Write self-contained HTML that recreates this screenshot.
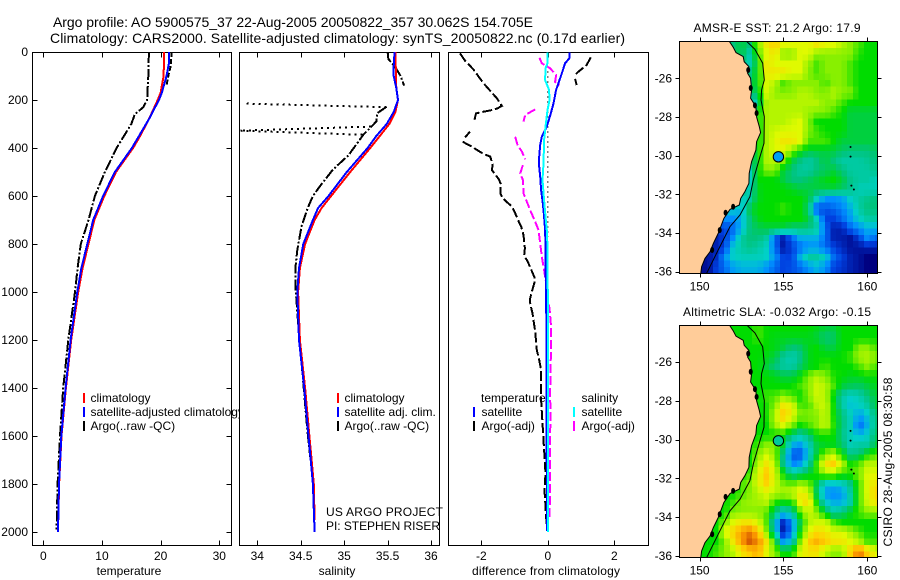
<!DOCTYPE html>
<html><head><meta charset="utf-8"><title>Argo profile</title>
<style>
html,body{margin:0;padding:0;background:#fff;width:900px;height:580px;overflow:hidden}
svg{display:block;font-family:"Liberation Sans",sans-serif;font-size:12px}
text{fill:#000}
</style></head>
<body>
<svg id="fig" xmlns="http://www.w3.org/2000/svg" width="900" height="580" viewBox="0 0 900 580">
<defs>
<clipPath id="clip-t"><rect x="32" y="52" width="200" height="494"/></clipPath>
<clipPath id="clip-s"><rect x="239" y="52" width="201" height="494"/></clipPath>
<clipPath id="clip-d"><rect x="448" y="52" width="201" height="494"/></clipPath>
<clipPath id="clip-m1"><rect x="679" y="41" width="199" height="232"/></clipPath>
<clipPath id="clip-m2"><rect x="679" y="325" width="199" height="232"/></clipPath>
<clipPath id="legend-clip"><rect x="0" y="380" width="239" height="60"/></clipPath>
</defs>
<text x="53" y="27" font-size="14" textLength="480">Argo profile: AO 5900575_37 22-Aug-2005 20050822_357 30.062S 154.705E</text>
<text x="50" y="43" font-size="14" textLength="575">Climatology: CARS2000. Satellite-adjusted climatology: synTS_20050822.nc (0.17d earlier)</text>
<g id="panels"></g>
<g id="maps"></g>
<g id="labels">
<text x="129" y="575" text-anchor="middle">temperature</text>
<text x="337" y="575" text-anchor="middle">salinity</text>
<text x="546" y="575" text-anchor="middle" textLength="148">difference from climatology</text>
<text x="326" y="516" textLength="117">US ARGO PROJECT</text>
<text x="326" y="530" textLength="114">PI: STEPHEN RISER</text>
<text x="777" y="32" text-anchor="middle" textLength="167">AMSR-E SST: 21.2 Argo: 17.9</text>
<text x="777" y="316" text-anchor="middle" textLength="188">Altimetric SLA: -0.032 Argo: -0.15</text>
<text x="0" y="0" text-anchor="middle" textLength="169" transform="translate(892,462) rotate(-90)">CSIRO 28-Aug-2005 08:30:58</text>
<g>
<rect x="83" y="393" width="2" height="10" fill="#f00"/>
<text x="90.5" y="402">climatology</text>
<rect x="83" y="407" width="2" height="10" fill="#00f"/>
<text x="90.5" y="416" clip-path="url(#legend-clip)">satellite-adjusted climatology</text>
<rect x="83" y="421" width="2" height="10" fill="#000"/>
<text x="90.5" y="430">Argo(..raw -QC)</text>
</g>
<g>
<rect x="337" y="393" width="2" height="10" fill="#f00"/>
<text x="344.5" y="402">climatology</text>
<rect x="337" y="407" width="2" height="10" fill="#00f"/>
<text x="344.5" y="416">satellite adj. clim.</text>
<rect x="337" y="421" width="2" height="10" fill="#000"/>
<text x="344.5" y="430">Argo(..raw -QC)</text>
</g>
<g>
<text x="481" y="402">temperature</text>
<rect x="473" y="407" width="2" height="10" fill="#00f"/>
<text x="481.5" y="416">satellite</text>
<rect x="473" y="421" width="2" height="10" fill="#000"/>
<text x="481.5" y="430">Argo(-adj)</text>
<text x="581.5" y="402">salinity</text>
<rect x="573" y="407" width="2" height="10" fill="#0ff"/>
<text x="581.5" y="416">satellite</text>
<rect x="573" y="421" width="2" height="10" fill="#f0f"/>
<text x="581.5" y="430">Argo(-adj)</text>
</g>
</g>
</svg>
<script>
/* ---------- profile data ---------- */
const depthTicks=[0,200,400,600,800,1000,1200,1400,1600,1800,2000];
const tempTicks=[0,10,20,30];
const salTicks=[34,34.5,35,35.5,36];
const diffTicks=[-2,0,2];

const tempClimDepth=[0,100,170,200,280,350,400,500,600,700,800,900,1000,1200,1400,1600,1800,1950];
const tempClimVal=[20.6,20.5,20.0,19.5,18.0,16.5,15.3,12.4,10.4,8.7,7.7,6.7,5.95,4.75,3.85,3.1,2.7,2.55];
const tempSatDepth=[0,50,100,170,200,280,400,500,600,700,800,900,1000,1200,1400,1600,1800,2000];
const tempSatVal=[21.4,21.4,21.0,20.2,19.7,18.0,15.1,12.2,10.2,8.5,7.5,6.5,5.8,4.66,3.8,3.07,2.67,2.5];
const tempArgoDepth=[0,100,200,230,260,300,400,500,600,700,800,900,1000,1200,1400,1600,1800,1990];
const tempArgoVal=[18.0,17.9,17.7,17.05,15.6,15.0,12.5,10.5,8.8,7.7,6.4,5.85,5.4,4.26,3.4,2.84,2.44,2.27];
const tempRawDepth=[0,60,100,140];
const tempRawVal=[21.9,21.7,21.3,21.0];

const salClimDepth=[0,150,200,250,300,350,400,500,600,650,700,800,900,1000,1200,1400,1600,1800,1950];
const salClimVal=[35.59,35.6,35.62,35.59,35.52,35.41,35.3,35.07,34.85,34.74,34.66,34.55,34.49,34.47,34.49,34.55,34.6,34.65,34.66];
const salSatDepth=[0,60,100,150,200,250,300,350,400,500,600,650,700,800,900,1000,1200,1400,1600,1800,2000];
const salSatVal=[35.58,35.57,35.57,35.6,35.62,35.57,35.49,35.37,35.27,35.03,34.82,34.7,34.64,34.53,34.48,34.46,34.48,34.54,34.59,34.64,34.66];
const salArgoDepth=[0,30,50,70,100,140,null,228,255,290,345,395,430,490,560,600,650,725,825,895,980,1130,1340,1550,1660,1770,1850];
const salArgoVal=[35.5,35.51,35.56,35.6,35.65,35.69,null,35.49,35.38,35.37,35.22,35.12,35.05,34.87,34.72,34.64,34.58,34.51,34.46,34.44,34.44,34.47,34.52,34.57,34.6,34.64,34.65];
const salRawDepth=[230,215,null,311,328,345];
const salRawVal=[35.49,33.85,null,35.31,33.8,35.24];

const diffSatTDepth=[3,26,47,89,131,158,214,256,311,353,387,436,478,519,575,631,686,742,811,881,1019,1200,1800,1995];
const diffSatTVal=[.65,.65,.52,.42,.32,.25,.17,.09,-.03,-.18,-.23,-.26,-.26,-.23,-.2,-.15,-.11,-.08,-.07,-.07,-.05,-.04,-.03,-.02];
const diffSatSDepth=[3,47,68,117,158,200,242,311,367,464,533,603,686,742,811,1019,1500,2000];
const diffSatSVal=[-.01,-.01,-.07,-.08,.04,.05,-.01,-.07,-.11,-.13,-.16,-.12,-.07,-.03,-.01,0,0,0];
const diffArgoTDepth=[6,36,72,131,193,225,236,242,249,256,286,null,332,356,null,374,390,425,436,471,492,529,550,589,610,644,672,704,728,763,818,846,881,939,960,999,1026,1047,1089,1165,1242,1283,1325,1450,1568,1658,1756,1825,1936,1981,null,22,54,82,99,null,112,138];
const diffArgoTVal=[-2.64,-2.49,-2.24,-1.93,-1.53,-1.38,-1.53,-1.68,-1.95,-2.16,-2.21,null,-2.34,-2.49,null,-2.56,-2.34,-1.93,-1.73,-1.66,-1.68,-1.48,-1.41,-1.43,-1.35,-1.08,-.98,-.88,-.8,-.73,-.69,-.71,-.58,-.4,-.4,-.48,-.53,-.53,-.46,-.38,-.33,-.26,-.2,-.2,-.15,-.11,-.07,-.1,-.05,-.03,null,1.29,1.17,.92,.79,null,.82,.87];
const diffArgoSDepth=[24,47,68,96,124,138,null,239,262,290,null,353,387,415,447,null,471,506,533,568,589,624,665,707,742,797,853,908,964,1019,1068,1131,1242,1311,1450,1492,1589,1867,1950];
const diffArgoSVal=[-.25,-.18,.07,.25,.22,.35,null,-.38,-.68,-.73,null,-.98,-.91,-.78,-.68,null,-.75,-.83,-.75,-.73,-.73,-.63,-.51,-.38,-.28,-.23,-.18,-.11,-.05,-.03,.05,.09,.1,.08,.07,.09,.07,.07,.04];
const diffRawDepth=[60,770];
const diffRawVal=[0,0];

/* ---------- map data ---------- */
const mapLons=[150.5,151,151.5,152,152.5,153,153.5,154,154.5,155,155.5,156,156.5,157,157.5,158,158.5,159,159.5,160,160.5];
const mapLats=[-24.25,-24.75,-25.25,-25.75,-26.25,-26.75,-27.25,-27.75,-28.25,-28.75,-29.25,-29.75,-30.25,-30.75,-31.25,-31.75,-32.25,-32.75,-33.25,-33.75,-34.25,-34.75,-35.25,-35.75];
const lonTicks=[150,155,160];
const latTicks=[-26,-28,-30,-32,-34,-36];
const sstGrid=[
[4,4,4,4,4.5,4,6,7.5,8,7,7,7,7,7.5,7,7,6.5,6,5.5,5,5],
[4,4,4,4,4.5,3.3,5.5,7,7.5,6,6,7,7,6,6,6,6,6,5.2,5,5],
[4,4,4,4,4,3.3,5,7.5,7,7,7,7,6.2,5.5,6,6,6,5.5,5,5,5],
[4,4,4,4,4,4,5,7.5,7.5,7.5,7,7,6,5.5,6,6,6,5.5,5,5,5],
[4,4,4,4,4,4,5,7,6.5,5.5,6,6,6,6,5.5,6,6,5.5,5,5,5],
[4,4,4,4,4,4,4.5,7,6,6,6,6.5,6.5,6,6,6.5,6,6,5,5,5],
[4,4,4,4,4,2,4,6.5,6.5,6.5,6.5,6.5,6.5,6.5,6,6,5.5,5,5,5,5],
[4,4,4,4,4,4,5,6.5,6.5,6.5,6.5,6.5,6.2,6,6,5.5,5,4.5,4.5,4.5,4.5],
[4,4,4,4,4,4,5,6.5,6.5,6.5,6.8,7,6,5,5,5,5,4.5,4.5,4.5,4.5],
[5,5,5,5,5,5,5,6.5,6.8,7,7,7,6,5.5,5,5,5,4.5,4.5,4.5,4.5],
[5,5,5,5,5,5,5,6.5,7,7.5,7.5,7,5.5,5.5,5.5,5,4.5,4.5,4.5,4.5,4.5],
[5,5,5,5,5,4,5,6.5,7,7,6,5,4.5,4.5,4.5,4.5,4.2,4,4,4,4.2],
[5,5,5,5,5,3.5,5,6.5,6.5,6,4.5,4,3.5,4,4.5,4,3.5,3.5,3.5,3.7,4],
[5,5,5,5,4,3,5,6,6,4.5,4,3.5,3.5,4,4.2,4.5,4,3.5,3.5,3.5,3.8],
[5,5,5,5,4,3,5,5,5,4.5,4,4,4.2,4.5,4.8,5,4.5,3.8,3.5,3.5,3.2],
[4,4,4,4,4,3.2,4.8,5,5,5,4.8,4.5,4.5,4.5,4.5,4.5,4.2,3.8,3.2,3.2,3.2],
[4,4,4,4,3,3.5,4.8,5,5,5,5,5,4.5,3,2,2,2.2,3,3.5,3.8,4],
[3,3,3,3,2.5,4.5,5,5,5,5.5,5,5,4,1,1.2,1.5,1.8,2.5,3.5,4,4],
[2,2,2,2,2.5,4,4.8,5,5,5,5,5,4.5,3,1,1,1.5,2.2,3,3.5,3.5],
[1,1,1,1.5,2.5,4,4.3,4.5,4.5,4.5,4,4,4,3.5,1.5,.5,.5,1.5,2,2.5,2.5],
[.5,.5,1,2,3.5,4,4,3.5,1.5,.5,1.5,2.5,2.5,2.5,1.5,.5,.5,.3,1,2,1.5],
[.5,.5,1,3,3.5,3.8,3.5,3,1.5,.3,1,1.5,2,2,1.5,1,.6,.3,.3,.5,.5],
[.3,.7,2,3,3.2,3.2,3.2,3,2,1,1,2.5,3.5,3.5,3,1.5,1,.5,.3,0,0],
[.2,1,1.5,2.2,2.5,2.5,2.5,2,1.5,1,1.2,1.5,2,2.5,2,1,.8,.5,.3,0,0]
];
const slaGrid=[
[5,5,5,5,5,5,5.5,5,5,5,5,5,5,4.8,4.5,4.5,5,5,5,5,5],
[5,5,5,5,5,5,5.5,5,4.8,4.8,4.8,4.8,4.8,4.5,4,4.2,5,5,5,5,5],
[5,5,5,5,5,5,5,5,4.8,4.5,4,4.2,4.8,5,4.5,4.5,5,5,6,6,5.5],
[5,5,5,5,5,5,5,4.8,4.5,3.6,3.2,3.8,4.8,5,5,5,5,5.5,6.3,6.5,6],
[5,5,5,5,5,5,5,4.5,4,3.6,3.5,4.2,4.8,5,5.5,5,5,5,5.5,6,5.5],
[5,5,5,5,5,5,5,5,4.8,4.5,4.5,5,6,6.5,6,5.2,5,4.8,4.8,5,5],
[5,5,5,5,5,5,5,5,5,5,5,5.5,6,6.8,6.5,5.5,4.5,4.3,4.2,4.5,4.8],
[5,5,5,5,5,5,5,5.5,5.5,6,5.5,5,6,6.8,6.5,4.8,3.5,3,3.3,4,4.5],
[5,5,5,5,5,5,5,5.2,6,7.5,7,5.5,5.5,6.5,6.8,5,3.5,2.8,3,3.5,4.5],
[5,5,5,5,5,5,5,5.2,6.5,8.2,7.2,6,6,6,6.8,5,4,3.2,2.2,2.8,4],
[5,5,5,5,5,5,5,5,6.3,7,6,5,5.5,6,6.8,5.2,4,3.2,1.5,2.5,4],
[5,5,5,5,5,5,5,5,5,5,4,3.5,4,5,5.2,5,3.8,3.2,2.5,3,4.2],
[5,5,5,5,5,5,5.5,6,6,4.6,2.5,2.2,3.2,4.5,4.8,4.8,4.2,3.2,3.5,3.5,4.5],
[5,5,5,5,5,5,6,6.8,6,3.8,1.2,1.2,2.8,4.5,6,6.5,5,3.8,4,5,5.5],
[5,5,5,5,5,5,6.5,7.5,6.5,3.8,1.8,2.2,3.5,5.5,7.5,8,6.5,5,5.5,6.5,6.5],
[5,5,5,5,5,5.5,7,8.2,6.8,5,3.5,4,4.5,5.3,6.5,6.5,5.5,5.5,6,7,7],
[5,5,5,5,5.5,6,7,8,6.8,5.8,5.5,6,5.8,4.5,3,3,3.2,4,5.5,7,7.5],
[5,5,5,5,5.5,6,6.5,7,6.5,6.5,6.8,7.5,7,4,2,1.8,2,3.5,5.5,7,8],
[5,5,5,5.5,6,6.2,6.3,6.5,5.2,4.8,5,7.2,7.8,5,3,2.5,2.5,3.5,5.5,6.8,7.5],
[5,5,5,6,6,6,6,5.5,4,3,3.5,5.5,6.8,6,4.5,3.5,4,4.8,5.5,6,6],
[5,5,6,7,7.5,7.5,7,5.5,3,.6,2,4.5,6.5,6.8,6.8,5.5,5,5,5,5,5],
[5,5,7,8,8.8,9.3,8.3,5.8,3.2,.2,1.8,5,7,7.8,7.5,7,7,6.3,5.5,5,5],
[5,5,6,7.5,8.8,9.8,9,7.5,5,2,3,6,8,8.5,8,7.5,7.5,7,6.5,5.5,5.5],
[5,5.5,6,6.5,7.5,8,8.5,7,6,5,5,7,7.5,7.5,6.5,6,6,8,9.5,8,7]
];
const colourStops=["#00007f","#0040e0","#0090ff","#00d0c8","#00c47c","#00dc00","#88f000","#e0fa00","#ffd000","#f89000","#c84800"];

const coastLon=[151.77,152.01,152.17,152.6,152.66,152.94,152.86,153.04,153.1,153.04,153.36,153.4,153.56,153.64,153.4,153.36,153.1,152.96,152.94,152.7,152.45,152.37,151.81,151.45,151.11,150.82,150.62,150.32,150.12,150.06];
const coastLat=[-24.09,-24.4,-24.67,-24.88,-25.14,-25.4,-25.74,-26,-26.6,-27.03,-27.47,-28,-28.5,-28.81,-29.28,-29.71,-30.31,-30.91,-31.43,-31.86,-32.21,-32.55,-32.78,-33.24,-34.02,-34.53,-34.97,-35.31,-35.74,-36.17];
const coastBlobLon=[152.9,153.05,153.3,153.4,152,151.55,151.2,150.75];
const coastBlobLat=[-25.57,-26.5,-27.4,-27.8,-32.64,-32.95,-33.85,-34.88];
const contourLon=[152.8,153.3,153.76,153.86,153.7,153.66,153.86,153.84,153.6,153.2,153,152.41,151.81,151.11,150.42];
const contourLat=[-24.09,-24.5,-25.22,-26.09,-26.6,-27.12,-27.98,-29.36,-30.05,-31.26,-32.12,-33.07,-33.67,-34.88,-36.09];
const islandLon=[159,159,159.05,159.2];
const islandLat=[-29.55,-30.05,-31.55,-31.75];
const argoLon=[154.7];
const argoLat=[-30.06];
const sstArgoLevel=[2.2];
const slaArgoLevel=[3.6];

/* ---------- helpers ---------- */
const NS='http://www.w3.org/2000/svg';
const panelsG=document.getElementById('panels');
const mapsG=document.getElementById('maps');
function lin(d0,d1,p0,p1){return v=>p0+(v-d0)*(p1-p0)/(d1-d0);}
const yDepth=lin(0,2000,52,532);
function pathD(xs,ys,sx,sy){let s='',pen=false;
  xs.forEach((x,i)=>{if(x===null||ys[i]===null){pen=false;return;}
    s+=(pen?'L':'M')+sx(x).toFixed(1)+' '+sy(ys[i]).toFixed(1);pen=true;});return s;}
function series(parent,name,vals,deps,sx,color,width,dash,clip){
  const el=document.createElementNS(NS,'path');
  
  
  el.setAttribute('d',pathD(vals,deps,sx,yDepth));
  el.setAttribute('fill','none');
  el.setAttribute('stroke',color);
  el.setAttribute('stroke-width',width);
  if(dash)el.setAttribute('stroke-dasharray',dash);
  el.setAttribute('shape-rendering','crispEdges');
  el.setAttribute('clip-path','url(#'+clip+')');
  parent.appendChild(el);
}
function seg(parent,x1,y1,x2,y2){
  const el=document.createElementNS(NS,'line');
  
  
  el.setAttribute('x1',x1);el.setAttribute('y1',y1);el.setAttribute('x2',x2);el.setAttribute('y2',y2);
  el.setAttribute('stroke','#000');el.setAttribute('stroke-width','1');
  el.setAttribute('shape-rendering','crispEdges');
  parent.appendChild(el);
}
function label(parent,name,x,y,str,anchor){
  const el=document.createElementNS(NS,'text');
  
  
  el.setAttribute('x',x);el.setAttribute('y',y);
  el.setAttribute('text-anchor',anchor);
  el.textContent=str;
  parent.appendChild(el);
}
function frame(parent,name,x,y,w,h,fill){
  const el=document.createElementNS(NS,'rect');
  
  
  el.setAttribute('x',x);el.setAttribute('y',y);el.setAttribute('width',w);el.setAttribute('height',h);
  el.setAttribute('fill',fill);
  if(fill==='none'){el.setAttribute('stroke','#000');el.setAttribute('stroke-width','1');}
  el.setAttribute('shape-rendering','crispEdges');
  parent.appendChild(el);
}
function group(parent,name){
  const g=document.createElementNS(NS,'g');
  
  
  parent.appendChild(g);return g;
}
function profilePanel(name,L,R,sx,ticks,showDepth){
  const g=group(panelsG,name);
  frame(g,name+'-background',L,52.5,R-L,493,'#fff');
  frame(g,name+'-frame',L,52.5,R-L,493,'none');
  ticks.forEach(t=>{const x=Math.round(sx(t))+.5;
    seg(g,x,52.5,x,57.5);seg(g,x,545.5,x,540.5);
    label(g,name+'-x-tick-label',sx(t),560,String(t),'middle');});
  if(showDepth)depthTicks.forEach(d=>{const y=Math.round(yDepth(d))+.5;
    seg(g,L,y,L+5,y);seg(g,R,y,R-5,y);
    label(g,name+'-y-tick-label',28,yDepth(d)+4,String(d),'end');});
  return g;
}

/* ---------- temperature ---------- */
const xT=lin(0,30,43.3,219.3);
const gT=profilePanel('temperature-panel',32.5,231.5,xT,tempTicks,true);
series(gT,'temperature-argo-raw-line',tempRawVal,tempRawDepth,xT,'#000',2,'5 2','clip-t');
series(gT,'temperature-argo-line',tempArgoVal,tempArgoDepth,xT,'#000',2,'11 2 2 2','clip-t');
series(gT,'temperature-climatology-line',tempClimVal,tempClimDepth,xT,'#f00',2,null,'clip-t');
series(gT,'temperature-satellite-line',tempSatVal,tempSatDepth,xT,'#00f',2,null,'clip-t');

/* ---------- salinity ---------- */
const xS=lin(34,36,257.3,431);
const gS=profilePanel('salinity-panel',239.5,439.5,xS,salTicks,false);
series(gS,'salinity-argo-raw-line',salRawVal,salRawDepth,xS,'#000',2,'2 4','clip-s');
series(gS,'salinity-argo-line',salArgoVal,salArgoDepth,xS,'#000',2,'11 2 2 2','clip-s');
series(gS,'salinity-climatology-line',salClimVal,salClimDepth,xS,'#f00',2,null,'clip-s');
series(gS,'salinity-satellite-line',salSatVal,salSatDepth,xS,'#00f',2,null,'clip-s');

/* ---------- difference ---------- */
const xD=lin(-2,2,481.3,614.3);
const gD=profilePanel('difference-panel',448.5,648.5,xD,diffTicks,false);
series(gD,'difference-zero-dotted-line',diffRawVal,diffRawDepth,xD,'#000',1.2,'1 4','clip-d');
series(gD,'difference-argo-salinity-line',diffArgoSVal,diffArgoSDepth,xD,'#f0f',2,'9 3','clip-d');
series(gD,'difference-argo-temperature-line',diffArgoTVal,diffArgoTDepth,xD,'#000',2,'10 3','clip-d');
series(gD,'difference-satellite-temperature-line',diffSatTVal,diffSatTDepth,xD,'#00f',2,null,'clip-d');
series(gD,'difference-satellite-salinity-line',diffSatSVal,diffSatSDepth,xD,'#0ff',2,null,'clip-d');

/* ---------- maps ---------- */
function hex(c){return [1,3,5].map(i=>parseInt(c.substr(i,2),16));}
function level(v){const t=Math.max(0,Math.min(colourStops.length-1,v));const i=Math.min(colourStops.length-2,Math.floor(t));const f=t-i;
  const a=hex(colourStops[i]),b=hex(colourStops[i+1]);
  return 'rgb('+a.map((q,k)=>Math.round(q+(b[k]-q)*f)).join(',')+')';}
function sampleGrid(grid,lon,lat){
  const nc=mapLons.length-1,nr=mapLats.length-1;
  const fx=Math.max(0,Math.min(nc,(lon-mapLons[0])/(mapLons[1]-mapLons[0])));
  const fy=Math.max(0,Math.min(nr,(lat-mapLats[0])/(mapLats[1]-mapLats[0])));
  const c=Math.min(nc-1,Math.floor(fx)),r=Math.min(nr-1,Math.floor(fy));
  const u=fx-c,v=fy-r;
  return (grid[r][c]*(1-u)+grid[r][c+1]*u)*(1-v)+(grid[r+1][c]*(1-u)+grid[r+1][c+1]*u)*v;
}
function mapPanel(name,grid,top,bottom,y26,y36,clip,argoLevel){
  const g=group(mapsG,name);
  const sx=lin(150,160,699.6,867.3);
  const sy=lin(-26,-36,y26,y36);
  const cells=group(g,name+'-heatmap');
  cells.setAttribute('clip-path','url(#'+clip+')');
  const step=1/3;
  for(let lat=-24.09;lat>-36.3;lat-=step){
    for(let lon=148.8;lon<160.8;lon+=step){
      const el=document.createElementNS(NS,'rect');
      
      
      const x0=sx(lon),x1=sx(lon+step),y0=sy(lat),y1=sy(lat-step);
      el.setAttribute('x',x0.toFixed(1));el.setAttribute('y',y0.toFixed(1));
      el.setAttribute('width',(x1-x0+.5).toFixed(1));el.setAttribute('height',(y1-y0+.5).toFixed(1));
      el.setAttribute('fill',level(sampleGrid(grid,lon+step/2,lat-step/2)));
      el.setAttribute('shape-rendering','crispEdges');
      cells.appendChild(el);
    }
  }
  const land=document.createElementNS(NS,'path');
  
  
  land.setAttribute('d',pathD(coastLon,coastLat,sx,sy)+'L'+sx(148.7)+' '+sy(-36.17)+'L'+sx(148.7)+' '+sy(-24)+'L'+sx(151.77)+' '+sy(-24)+'Z');
  land.setAttribute('fill','#ffcc99');land.setAttribute('stroke','#000');land.setAttribute('stroke-width','1');
  land.setAttribute('clip-path','url(#'+clip+')');
  g.appendChild(land);
  coastBlobLon.forEach((lon,i)=>{
    const el=document.createElementNS(NS,'ellipse');
    
    
    el.setAttribute('cx',sx(lon));el.setAttribute('cy',sy(coastBlobLat[i]));el.setAttribute('rx','2');el.setAttribute('ry','3');
    el.setAttribute('fill','#000');
    g.appendChild(el);
  });
  const cont=document.createElementNS(NS,'path');
  
  
  cont.setAttribute('d',pathD(contourLon,contourLat,sx,sy));
  cont.setAttribute('fill','none');cont.setAttribute('stroke','#000');cont.setAttribute('stroke-width','1');
  cont.setAttribute('clip-path','url(#'+clip+')');
  g.appendChild(cont);
  islandLon.forEach((lon,i)=>{
    const el=document.createElementNS(NS,'circle');
    
    
    el.setAttribute('cx',sx(lon));el.setAttribute('cy',sy(islandLat[i]));el.setAttribute('r','1');
    el.setAttribute('fill','#000');
    g.appendChild(el);
  });
  const argo=document.createElementNS(NS,'circle');
  
  
  argo.setAttribute('cx',sx(argoLon[0]));argo.setAttribute('cy',sy(argoLat[0]));argo.setAttribute('r','5.2');
  argo.setAttribute('fill',level(argoLevel[0]));argo.setAttribute('stroke','#000');argo.setAttribute('stroke-width','1');
  g.appendChild(argo);
  frame(g,name+'-frame',679.5,top,198,bottom-top,'none');
  lonTicks.forEach(t=>{const x=Math.round(sx(t))+.5;
    seg(g,x,top,x,top-4);seg(g,x,bottom,x,bottom+4);
    label(g,name+'-lon-label',sx(t),bottom+17,String(t),'middle');});
  latTicks.forEach(t=>{const y=Math.round(sy(t))+.5;
    seg(g,679.5,y,675.5,y);seg(g,877.5,y,881.5,y);
    label(g,name+'-lat-label',672,sy(t)+4,String(t),'end');});
}
mapPanel('sst-map',sstGrid,41.5,273.5,78.3,271.7,'clip-m1',sstArgoLevel);
mapPanel('sla-map',slaGrid,325.5,557.5,362,556,'clip-m2',slaArgoLevel);
</script>
</body></html>
